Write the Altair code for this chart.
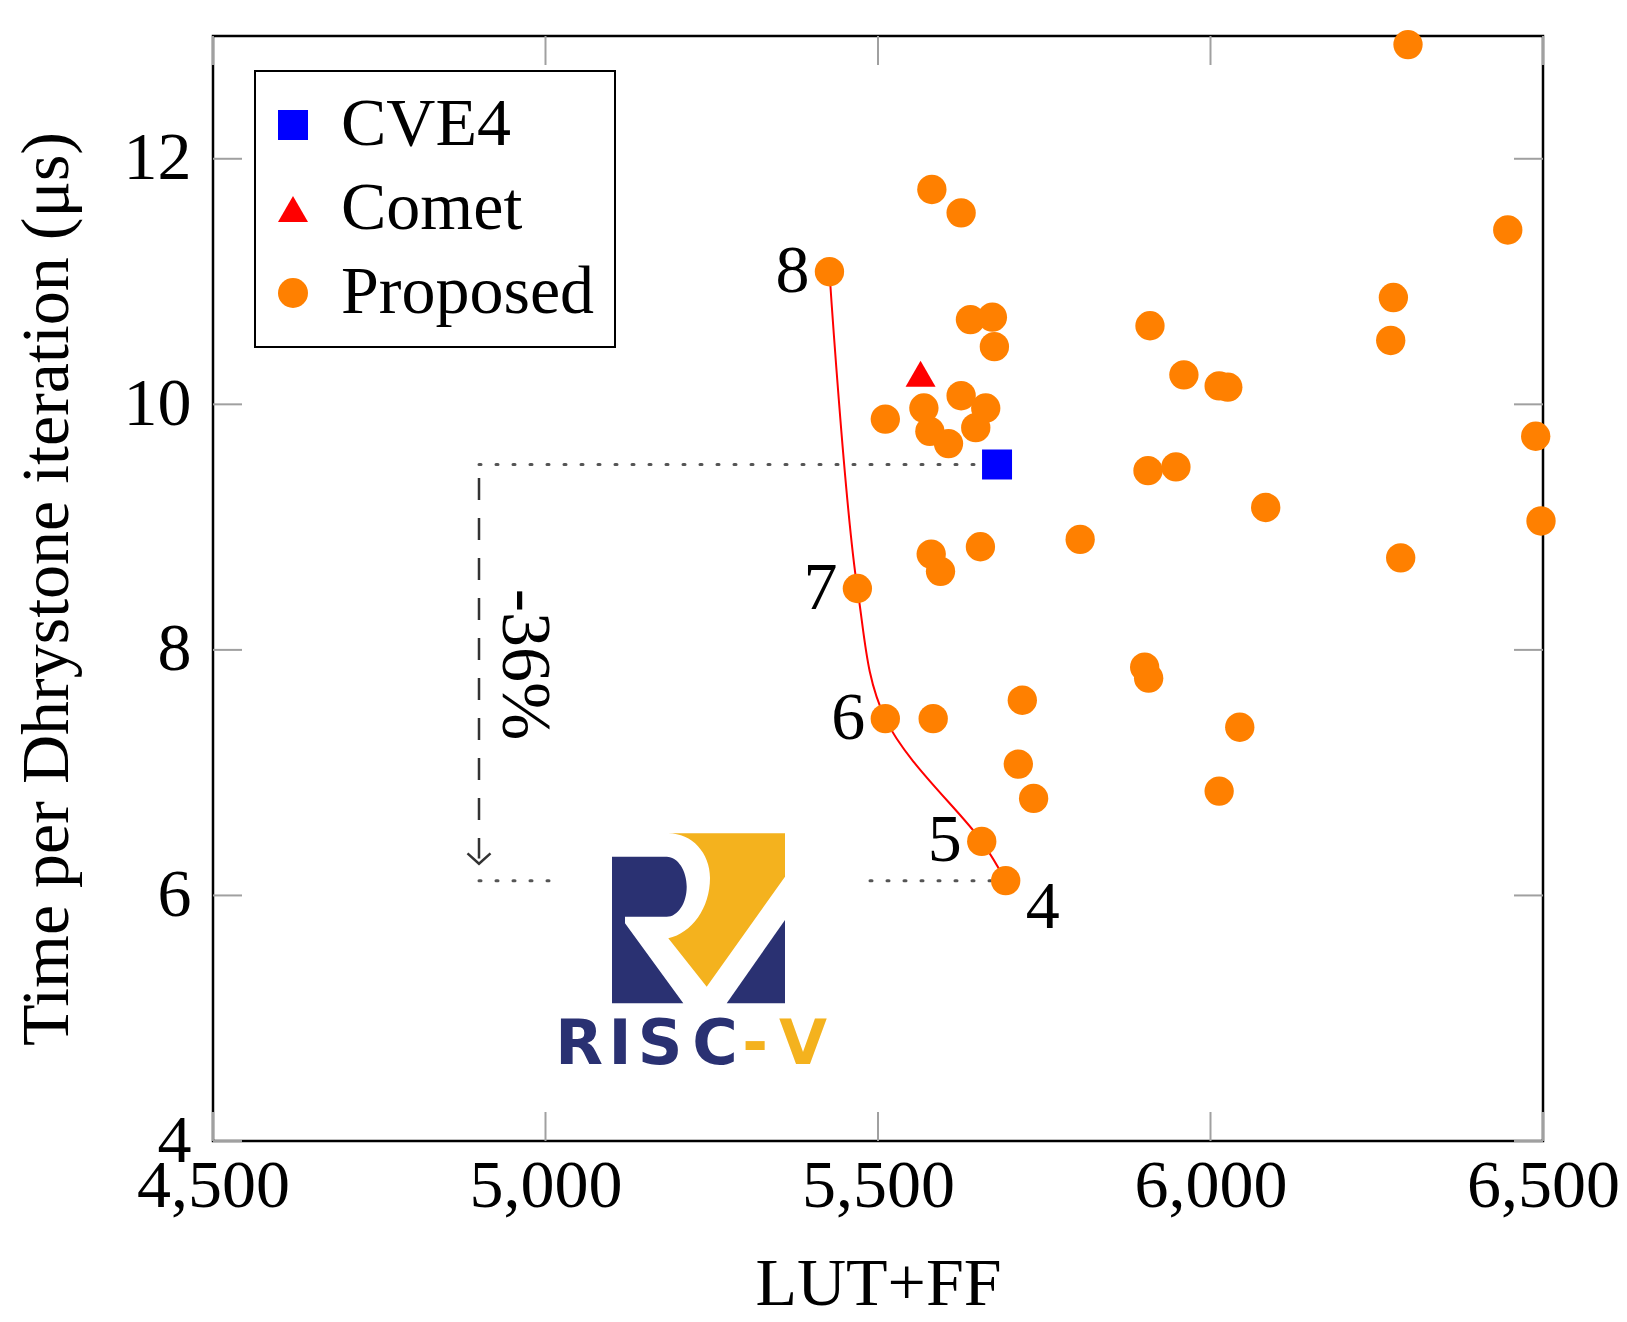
import base64
import altair as alt
import pandas as pd

# ---------------- data ----------------
series_names = ["CVE4", "Comet", "Proposed"]
series_colors = ["#0000ff", "#ff0000", "#ff8000"]
series_shapes = ["square", "triangle-up", "circle"]

cve4_x = [5679]
cve4_y = [9.51]
comet_x = [5564]
comet_y = [10.25]

prop_x = [6297, 5581, 5625, 6447, 5427, 6275, 5639, 5672, 5909, 5675, 6271,
          5960, 6013, 6026, 5625, 5569, 5662, 5511, 5578, 5647, 5606, 6489,
          5906, 5948, 6083, 6497, 5804, 5654, 5580, 5594, 6286, 5469, 5901,
          5907, 5717, 5511, 5583, 6044, 5711, 5734, 6013, 5656, 5692]
prop_y = [12.93, 11.75, 11.56, 11.42, 11.08, 10.87, 10.69, 10.71, 10.64, 10.47,
          10.52, 10.24, 10.15, 10.14, 10.07, 9.97, 9.97, 9.88, 9.78, 9.81, 9.68,
          9.74, 9.46, 9.49, 9.16, 9.05, 8.90, 8.84, 8.78, 8.64, 8.75, 8.50, 7.86,
          7.77, 7.59, 7.44, 7.44, 7.37, 7.07, 6.79, 6.85, 6.44, 6.12]

pareto_x = [5427, 5469, 5511, 5656, 5692]
pareto_y = [11.08, 8.50, 7.44, 6.44, 6.12]
pareto_labels = ["8", "7", "6", "5", "4"]

x_ticks = [4500, 5000, 5500, 6000, 6500]
y_ticks = [4, 6, 8, 10, 12]

ref_x0 = [4900, 4900]
ref_x1 = [5679, 5692]
ref_y = [9.51, 6.12]
arrow_x = [4900]
arrow_y0 = [9.40]
arrow_y1 = [6.30]
gain_text = ["-36%"]
gain_x = [4968]
gain_y = [7.88]

logo_letters = ["R", "I", "S", "C", "-", "V"]
logo_letter_colors = ["#2a3172", "#2a3172", "#2a3172", "#2a3172", "#f4b21e", "#f4b21e"]

# ---------------- layout / style ----------------
W, H = 1330, 1105
FONT = "Liberation Serif"
FS = 68
TICK = 29
marker_size = {"CVE4": 900, "Comet": 900, "Proposed": 860}

pts_df = pd.DataFrame({
    "lut": prop_x + cve4_x + comet_x,
    "time": prop_y + cve4_y + comet_y,
    "design": ["Proposed"] * len(prop_x) + ["CVE4"] * len(cve4_x) + ["Comet"] * len(comet_x),
})
pts_df["msize"] = pts_df["design"].map(marker_size)
pareto_df = pd.DataFrame({"lut": pareto_x, "time": pareto_y, "lab": pareto_labels})

xs = alt.Scale(domain=[4500, 6500], nice=False, zero=False)
ys = alt.Scale(domain=[4, 13], nice=False, zero=False)

leg = alt.Legend(title=None, orient="none", legendX=42, legendY=35)

points = alt.Chart(pts_df).mark_point(filled=True, opacity=1, strokeWidth=0).encode(
    x=alt.X("lut:Q", scale=xs,
            axis=alt.Axis(values=x_ticks, format=",d", title="LUT+FF")),
    y=alt.Y("time:Q", scale=ys,
            axis=alt.Axis(values=y_ticks, format="d",
                          title="Time per Dhrystone iteration (μs)")),
    color=alt.Color("design:N", scale=alt.Scale(domain=series_names, range=series_colors), legend=leg),
    shape=alt.Shape("design:N", scale=alt.Scale(domain=series_names, range=series_shapes), legend=leg),
    size=alt.Size("msize:Q", scale=None),
)

line = alt.Chart(pareto_df).mark_line(color="#ff0000", strokeWidth=2, interpolate="catmull-rom").encode(
    x=alt.X("lut:Q", scale=xs), y=alt.Y("time:Q", scale=ys)
)

lab_left = alt.Chart(pareto_df).transform_filter("datum.lab != '4'").mark_text(
    font=FONT, fontSize=FS, color="black", dx=-37, align="center", baseline="middle"
).encode(x=alt.X("lut:Q", scale=xs), y=alt.Y("time:Q", scale=ys), text="lab:N")

lab_4 = alt.Chart(pareto_df).transform_filter("datum.lab == '4'").mark_text(
    font=FONT, fontSize=FS, color="black", dx=37, dy=27, align="center", baseline="middle"
).encode(x=alt.X("lut:Q", scale=xs), y=alt.Y("time:Q", scale=ys), text="lab:N")

ref_df = pd.DataFrame({"x0": ref_x0, "x1": ref_x1, "y": ref_y})
ref_lines = alt.Chart(ref_df).mark_rule(
    color="#555555", strokeWidth=3, strokeDash=[2, 15], strokeCap="round"
).encode(x=alt.X("x0:Q", scale=xs), x2="x1:Q", y=alt.Y("y:Q", scale=ys))

arr_df = pd.DataFrame({"x": arrow_x, "y0": arrow_y0, "y1": arrow_y1})
arrow_line = alt.Chart(arr_df).mark_rule(
    color="#333333", strokeWidth=2.5, strokeDash=[22, 18]
).encode(x=alt.X("x:Q", scale=xs), y=alt.Y("y0:Q", scale=ys), y2="y1:Q")
arrow_head = alt.Chart(arr_df).mark_point(
    shape="M-1,-0.45L0,0.45L1,-0.45", filled=False, size=529, strokeWidth=2.5,
    color="#333333", opacity=1
).encode(x=alt.X("x:Q", scale=xs), y=alt.Y("y1:Q", scale=ys))

gain_df = pd.DataFrame({"x": gain_x, "y": gain_y, "t": gain_text})
gain = alt.Chart(gain_df).mark_text(
    font=FONT, fontSize=70, angle=90, color="black", align="center", baseline="middle"
).encode(x=alt.X("x:Q", scale=xs), y=alt.Y("y:Q", scale=ys), text="t:N")

# RISC-V logo graphic (decoration)
svg = (
    '<svg xmlns="http://www.w3.org/2000/svg" width="307" height="171" viewBox="-61 0 307 171">'
    '<rect x="-61" y="0" width="307" height="171" fill="white"/>'
    '<path d="M0,23.7 L54.7,23.7 C66,23.7 74.7,38 74.7,53.7 C74.7,70 66,83.7 54.7,83.7 '
    'L13,83.7 L13,90.3 L71.3,170.3 L0,170.3 Z" fill="#2a3172"/>'
    '<path d="M114.7,170.3 L173,87 L173,170.3 Z" fill="#2a3172"/>'
    '<path d="M56.3,0.3 C80,0.3 98,20 98,45 C98,75 80,100 56.3,105.3 L94.7,153.7 '
    'L173,43.7 L173,0.3 Z" fill="#f4b21e"/>'
    '</svg>'
)
uri = "data:image/svg+xml;base64," + base64.b64encode(svg.encode("utf-8")).decode("ascii")
logo = alt.Chart(pd.DataFrame({"url": [uri]})).mark_image(
    width=307, height=171, align="left", baseline="top", aspect=False
).encode(url="url:N", x=alt.value(338), y=alt.value(797))

letters_df = pd.DataFrame({
    "ch": logo_letters,
    "px": [366, 407, 447, 502, 542, 590],
    "col": logo_letter_colors,
})
letters = alt.Chart(letters_df).mark_text(
    font="DejaVu Sans", fontWeight="bold", fontSize=62, align="center", baseline="alphabetic"
).encode(
    x=alt.X("px:Q", scale=None), y=alt.value(1028), text="ch:N",
    color=alt.Color("col:N", scale=None),
)

# inward ticks on all four sides
xt_df = pd.DataFrame({"v": x_ticks})
yt_df = pd.DataFrame({"v": y_ticks})
tick_style = dict(color="#a0a0a0", strokeWidth=2)
xt_bot = alt.Chart(xt_df).mark_rule(**tick_style).encode(
    x=alt.X("v:Q", scale=xs), y=alt.value(H), y2=alt.value(H - TICK))
xt_top = alt.Chart(xt_df).mark_rule(**tick_style).encode(
    x=alt.X("v:Q", scale=xs), y=alt.value(0), y2=alt.value(TICK))
yt_left = alt.Chart(yt_df).mark_rule(**tick_style).encode(
    y=alt.Y("v:Q", scale=ys), x=alt.value(0), x2=alt.value(TICK))
yt_right = alt.Chart(yt_df).mark_rule(**tick_style).encode(
    y=alt.Y("v:Q", scale=ys), x=alt.value(W), x2=alt.value(W - TICK))

chart = alt.layer(
    xt_bot, xt_top, yt_left, yt_right,
    ref_lines, arrow_line, arrow_head, gain,
    logo, letters,
    line, points, lab_left, lab_4,
).properties(
    width=W, height=H,
    autosize=alt.AutoSizeParams(type="none"),
    padding={"left": 205, "top": 28, "right": 76, "bottom": 180},
).configure_view(
    stroke="black", strokeWidth=2.5
).configure_axis(
    domain=False, ticks=False, tickSize=0, grid=False,
    labelFont=FONT, labelFontSize=FS, labelColor="black",
    labelFlush=False, labelOverlap=False,
    titleFont=FONT, titleFontSize=FS, titleFontWeight="normal", titleColor="black",
).configure_axisX(
    labelPadding=11, titlePadding=30
).configure_axisY(
    labelPadding=22, titlePadding=42
).configure_legend(
    labelFont=FONT, labelFontSize=FS, labelColor="black", labelLimit=500,
    labelOffset=14, padding=20, rowPadding=16, symbolSize=900, symbolOffset=-16,
    strokeColor="black", strokeWidth=2, fillColor="white",
    symbolStrokeWidth=0, symbolOpacity=1,
)

chart.save("out.html", embed_options={"renderer": "svg", "actions": False})
